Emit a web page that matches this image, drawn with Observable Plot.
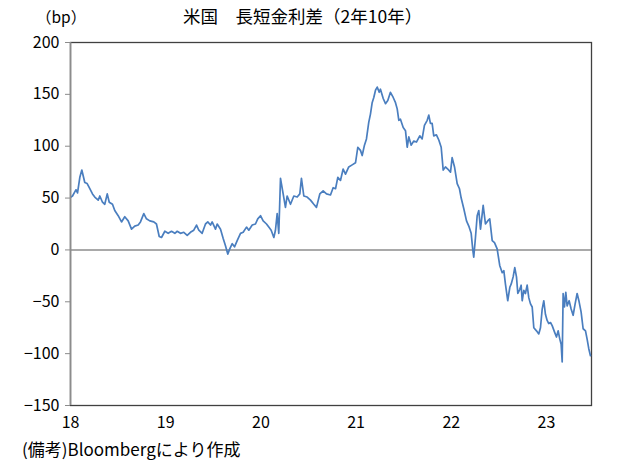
<!DOCTYPE html>
<html><head><meta charset="utf-8">
<script src="https://cdn.jsdelivr.net/npm/d3@7"></script>
<script src="https://cdn.jsdelivr.net/npm/@observablehq/plot@0.6"></script>
<style>body{margin:0;background:#fff} svg{display:block}</style>
</head><body><div id="chart"></div>
<script>
// decimal year (18 = 2018-01-01)
const years = [18.005,18.021,18.045,18.058,18.074,18.098,18.119,18.150,18.175,18.192,18.231,18.255,18.291,18.308,18.336,18.360,18.386,18.407,18.441,18.465,18.501,18.536,18.570,18.606,18.641,18.675,18.711,18.735,18.770,18.798,18.833,18.875,18.903,18.932,18.956,18.991,
19.026,19.061,19.096,19.121,19.155,19.190,19.226,19.260,19.295,19.324,19.348,19.383,19.418,19.442,19.471,19.488,19.523,19.541,19.576,19.604,19.628,19.652,19.673,19.699,19.723,19.751,19.786,19.814,19.849,19.873,19.909,19.943,19.967,19.996,
20.024,20.059,20.083,20.108,20.136,20.153,20.171,20.188,20.206,20.234,20.258,20.276,20.311,20.346,20.381,20.409,20.426,20.451,20.486,20.521,20.556,20.584,20.619,20.654,20.689,20.731,20.759,20.784,20.808,20.836,20.864,20.889,20.923,20.959,20.994,
21.018,21.046,21.064,21.088,21.109,21.133,21.151,21.169,21.186,21.204,21.222,21.243,21.256,21.285,21.309,21.333,21.361,21.390,21.414,21.432,21.449,21.466,21.495,21.519,21.537,21.554,21.579,21.606,21.634,21.669,21.694,21.718,21.747,21.764,21.781,21.799,21.816,21.844,21.869,21.894,21.915,21.939,21.963,21.992,
22.009,22.034,22.062,22.086,22.104,22.131,22.160,22.184,22.209,22.226,22.236,22.254,22.272,22.289,22.307,22.335,22.359,22.383,22.404,22.430,22.454,22.482,22.509,22.535,22.552,22.569,22.593,22.615,22.629,22.650,22.667,22.685,22.699,22.720,22.734,22.745,22.762,22.779,22.797,22.814,22.832,22.850,22.867,22.895,22.919,22.937,22.955,22.972,22.989,
23.007,23.024,23.042,23.060,23.084,23.105,23.123,23.140,23.154,23.165,23.175,23.189,23.203,23.217,23.238,23.259,23.280,23.301,23.322,23.343,23.364,23.385,23.410,23.427,23.444,23.462];
// 2y10y spread (bp)
const spread = [51,52,56,58,55,70,77,65,64,61,54,51,48,52,46,44,54,46,44,38,33,27,32,28,20,23,24,27,35,30,28,27,25,13,12,18,
16,18,16,18,16,17,14,17,19,24,19,16,25,27,24,27,20,25,20,11,4,-4,1,6,3,9,16,17,22,19,24,25,30,33,
28,25,22,19,12,19,35,16,69,54,41,52,44,52,51,54,69,52,51,48,44,41,54,57,54,53,60,59,70,67,78,73,80,82,84,
99,96,91,101,107,123,131,142,147,154,157,152,155,146,141,144,152,147,142,136,125,126,118,115,99,109,101,105,104,110,107,120,125,130,122,122,110,111,106,99,77,80,78,75,
89,80,64,59,50,40,28,23,16,0,-7,12,33,38,20,43,25,28,30,9,7,1,-15,-22,-20,-33,-49,-36,-33,-26,-17,-26,-42,-38,-34,-49,-39,-42,-34,-46,-52,-55,-75,-78,-81,-75,-57,-49,-62,
-68,-71,-70,-73,-79,-84,-78,-86,-91,-108,-42,-55,-41,-54,-49,-57,-63,-52,-42,-50,-60,-76,-78,-86,-95,-102];
const yTicks = [-150,-100,-50,0,50,100,150,200];
const xTicks = [18,19,20,21,22,23];
const xTickLabels = ["18","19","20","21","22","23"];
const titleText = "米国　長短金利差（2年10年）";
const unitText = "（bp）";
const noteText = "(備考)Bloombergにより作成";

const data = years.map((t, i) => ({t, v: spread[i]}));
const font = '"Noto Sans CJK JP", "Noto Sans", sans-serif';

const plot = Plot.plot({
  width: 618, height: 468,
  marginTop: 42, marginBottom: 63, marginLeft: 70, marginRight: 27,
  style: {fontFamily: font, fontSize: "16px", background: "#fff", color: "#000", overflow: "visible"},
  x: {domain: [18, 23.473], label: null},
  y: {domain: [-150, 200], label: null},
  marks: [
    Plot.frame({stroke: "#404040", strokeWidth: 1.3}),
    Plot.ruleY([0], {stroke: "#8c8c8c", strokeWidth: 1.6}),
    Plot.line(data, {x: "t", y: "v", stroke: "#4a7ebf", strokeWidth: 1.7}),
    Plot.ruleX([18], {stroke: "#8c8c8c", strokeWidth: 1.6}),
    Plot.axisY({ticks: yTicks, tickSize: 5, tickPadding: 6, stroke: "#8c8c8c", fontSize: 16, label: null}),
    Plot.axisX({ticks: xTicks, tickSize: 0, tickPadding: 11, fontSize: 16, label: null,
      tickFormat: d => xTickLabels[xTicks.indexOf(d)]})
  ]
});

const svg = d3.select(plot);
svg.append("text").attr("x", 183).attr("y", 23).attr("font-size", 17.5).attr("text-anchor", "start")
  .attr("font-family", font).attr("fill", "#000").text(titleText);
svg.append("text").attr("x", 36).attr("y", 23).attr("font-size", 15.5).attr("text-anchor", "start")
  .attr("font-family", font).attr("fill", "#000").text(unitText);
svg.append("text").attr("x", 22).attr("y", 456).attr("font-size", 17).attr("text-anchor", "start")
  .attr("font-family", font).attr("fill", "#000").text(noteText);

document.getElementById("chart").appendChild(plot);
</script>
</body></html>
